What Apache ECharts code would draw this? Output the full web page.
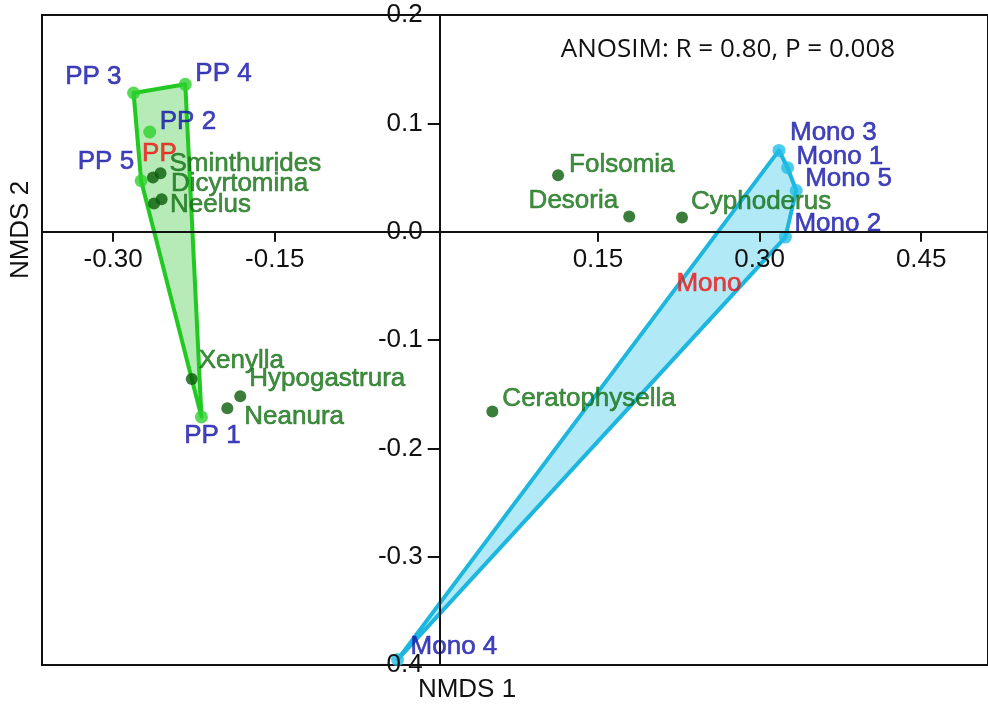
<!DOCTYPE html>
<html><head><meta charset="utf-8">
<script src="https://cdn.jsdelivr.net/npm/echarts@6/dist/echarts.min.js"></script>
<style>html,body{margin:0;padding:0;background:#fff}#c{width:988px;height:704px}</style>
</head><body><div id="c"></div>
<script>
// ---- data ----
const siteNames = ['PP 1','PP 2','PP 3','PP 4','PP 5','Mono 1','Mono 2','Mono 3','Mono 4','Mono 5'];
const siteX = [-0.218,-0.266,-0.281,-0.233,-0.274, 0.326, 0.324, 0.318,-0.036, 0.334];
const siteY = [-0.171, 0.092, 0.128, 0.136, 0.047, 0.059,-0.005, 0.075,-0.395, 0.038];
const siteGroup = ['PP','PP','PP','PP','PP','Mono','Mono','Mono','Mono','Mono'];
const speciesNames = ['Sminthurides','Dicyrtomina','Neelus','','Xenylla','Hypogastrura','Neanura','Folsomia','Desoria','Cyphoderus','Ceratophysella'];
const speciesX = [-0.256,-0.263,-0.262,-0.255,-0.227,-0.182,-0.194, 0.113, 0.179, 0.228, 0.052];
const speciesY = [ 0.054, 0.050, 0.026, 0.030,-0.136,-0.152,-0.163, 0.052, 0.014, 0.013,-0.166];
const groupNames = ['PP','Mono'];
const groupLabelX = [-0.257, 0.253];
const groupLabelY = [ 0.072,-0.048];
const hullPP = ['PP 3','PP 4','PP 1','PP 5'];
const hullMono = ['Mono 3','Mono 1','Mono 5','Mono 2','Mono 4'];
const xTickValues = [-0.30,-0.15,0.15,0.30,0.45];
const statText = 'ANOSIM: R = 0.80, P = 0.008';
const xTitle = 'NMDS 1', yTitle = 'NMDS 2';

// ---- layout / style ----
const W = 988, H = 704;
const GRID = {left:42, right:-8, top:15, bottom:39};
const X_RANGE = [-0.366, 0.512], Y_RANGE = [-0.4, 0.2];
const gridW = W - GRID.left - GRID.right, gridH = H - GRID.top - GRID.bottom;
const zeroXpx = GRID.left + (0 - X_RANGE[0]) / (X_RANGE[1] - X_RANGE[0]) * gridW;
const zeroYpx = GRID.top + (Y_RANGE[1] - 0) / (Y_RANGE[1] - Y_RANGE[0]) * gridH;

const siteLabelLayout = {
  'PP 1':['center',11,19], 'PP 2':['left',10,-10], 'PP 3':['right',-12,-16], 'PP 4':['left',10,-11], 'PP 5':['right',-7,-19],
  'Mono 1':['left',9,-11], 'Mono 2':['left',9,-13], 'Mono 3':['left',11,-18], 'Mono 4':['left',13,-13], 'Mono 5':['left',9,-12]
};
const speciesLabelLayout = {
  'Sminthurides':['left',9,-9], 'Dicyrtomina':['left',18,6], 'Neelus':['left',16,1], '':['left',0,0],
  'Xenylla':['left',7,-18], 'Hypogastrura':['left',9,-18], 'Neanura':['left',17,9], 'Folsomia':['left',11,-11],
  'Desoria':['right',-11,-16], 'Cyphoderus':['left',9,-16], 'Ceratophysella':['left',10,-13]
};

const FONT = 'Liberation Sans, Arial, sans-serif';
const COLORS = {
  PP:{point:'#2ed12e', stroke:'#22c922', fill:'#b6eab6'},
  Mono:{point:'#22bde6', stroke:'#1cb6df', fill:'#b2e9f6'},
  species:'#0a5c0a', speciesText:'#137013', siteText:'#1414aa', groupText:'#ee1515'
};

function labelFrom(layout, color){
  return {show:true, formatter:'{b}', position:'inside', align:layout[0], verticalAlign:'middle',
    offset:[layout[1], layout[2]], color:color, fontSize:26, fontFamily:FONT,
    textBorderColor:color, textBorderWidth:0.6};
}

function siteData(group){
  const out = [];
  siteNames.forEach((n,i)=>{
    if (siteGroup[i] !== group) return;
    out.push({name:n, value:[siteX[i], siteY[i]], label:labelFrom(siteLabelLayout[n], COLORS.siteText)});
  });
  return out;
}

function hullSeries(names, c){
  return {
    type:'custom', coordinateSystem:'cartesian2d', silent:true, z:1, clip:false,
    data:[[0,0]],
    renderItem:(params, api)=>{
      const pts = names.map(n=>{const i = siteNames.indexOf(n); return api.coord([siteX[i], siteY[i]]);});
      return {type:'polygon', shape:{points:pts}, style:{fill:c.fill, stroke:c.stroke, lineWidth:4, lineJoin:'round'}};
    }
  };
}

const chart = echarts.init(document.getElementById('c'), null, {renderer:'canvas'});
chart.setOption({
  animation:false,
  backgroundColor:'#fff',
  grid:{left:GRID.left, right:GRID.right, top:GRID.top, bottom:GRID.bottom, show:true, borderColor:'#111', borderWidth:2, backgroundColor:'transparent'},
  xAxis:{
    type:'value', min:X_RANGE[0], max:X_RANGE[1], position:'bottom', offset:-(GRID.top + gridH - zeroYpx), z:6,
    axisLine:{onZero:false, lineStyle:{color:'#111', width:2}},
    axisTick:{show:true, length:10, inside:false, customValues:xTickValues, lineStyle:{color:'#111', width:2}},
    axisLabel:{customValues:xTickValues, formatter:v=>v.toFixed(2), fontSize:26, fontFamily:FONT, color:'#111', margin:15},
    splitLine:{show:false}
  },
  yAxis:{
    type:'value', min:Y_RANGE[0], max:Y_RANGE[1], interval:0.1, position:'left', offset:-(zeroXpx - GRID.left), z:6,
    axisLine:{onZero:false, lineStyle:{color:'#111', width:2}},
    axisTick:{show:true, length:12, inside:false, lineStyle:{color:'#111', width:2}},
    axisLabel:{formatter:v=>v.toFixed(1), fontSize:26, fontFamily:FONT, color:'#111', margin:17, showMinLabel:true, showMaxLabel:true},
    splitLine:{show:false}
  },
  graphic:[
    {type:'text', x:728, y:50, style:{text:statText, font:'26px "Open Sans", sans-serif', fill:'#111', textAlign:'center', textVerticalAlign:'middle'}},
    {type:'text', x:467, y:690, style:{text:xTitle, font:'26px '+FONT, fill:'#111', textAlign:'center', textVerticalAlign:'middle'}},
    {type:'text', rotation:Math.PI/2, x:21, y:230, style:{text:yTitle, font:'26px '+FONT, fill:'#111', textAlign:'center', textVerticalAlign:'middle'}}
  ],
  series:[
    hullSeries(hullPP, COLORS.PP),
    hullSeries(hullMono, COLORS.Mono),
    {type:'scatter', z:3, symbol:'circle', symbolSize:13, itemStyle:{color:COLORS.PP.point}, data:siteData('PP')},
    {type:'scatter', z:3, symbol:'circle', symbolSize:13, itemStyle:{color:COLORS.Mono.point}, data:siteData('Mono')},
    {type:'scatter', z:4, symbol:'circle', symbolSize:12, itemStyle:{color:COLORS.species},
      data:speciesNames.map((n,i)=>({name:n, value:[speciesX[i], speciesY[i]], label:labelFrom(speciesLabelLayout[n], COLORS.speciesText)}))},
    {type:'scatter', z:5, symbol:'circle', symbolSize:1, itemStyle:{color:'rgba(0,0,0,0)'},
      data:groupNames.map((n,i)=>({name:n, value:[groupLabelX[i], groupLabelY[i]],
        label:{show:true, position:'inside', formatter:'{b}', color:COLORS.groupText, fontSize:26, fontFamily:FONT,
          textBorderColor:COLORS.groupText, textBorderWidth:0.6}}))}
  ]
});
</script></body></html>
